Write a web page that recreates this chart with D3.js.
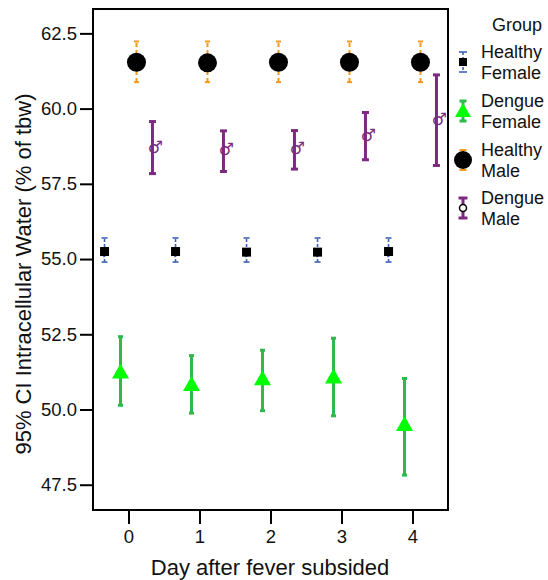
<!DOCTYPE html>
<html>
<head>
<meta charset="utf-8">
<script src="https://cdn.jsdelivr.net/npm/d3@7"></script>
<style>
  body { margin: 0; background: #fff; }
  text { font-family: "Liberation Sans", Arial, sans-serif; }
</style>
</head>
<body>
<div id="my_dataviz"><svg></svg></div>
<script>
// data
var days = [0, 1, 2, 3, 4];
var groups = ["Healthy Female", "Dengue Female", "Healthy Male", "Dengue Male"];

var healthyFemaleMean = [55.25, 55.25, 55.23, 55.23, 55.25];
var healthyFemaleLow  = [54.90, 54.90, 54.90, 54.90, 54.90];
var healthyFemaleHigh = [55.70, 55.70, 55.70, 55.70, 55.70];

var dengueFemaleMean = [51.26, 50.85, 51.04, 51.10, 49.52];
var dengueFemaleLow  = [50.14, 49.88, 49.96, 49.79, 47.82];
var dengueFemaleHigh = [52.42, 51.79, 51.97, 52.37, 51.03];

var healthyMaleMean = [61.54, 61.52, 61.54, 61.54, 61.54];
var healthyMaleLow  = [60.88, 60.88, 60.88, 60.88, 60.88];
var healthyMaleHigh = [62.23, 62.23, 62.23, 62.23, 62.23];

var dengueMaleMean = [58.70, 58.62, 58.65, 59.09, 59.63];
var dengueMaleLow  = [57.84, 57.91, 57.99, 58.30, 58.11];
var dengueMaleHigh = [59.57, 59.26, 59.27, 59.87, 61.12];

var yTicks = [47.5, 50.0, 52.5, 55.0, 57.5, 60.0, 62.5];
var dodge = [-0.3375, -0.1125, 0.1125, 0.3375];

var margin = {top: 9, right: 100, bottom: 70, left: 93};
var width = 448 - 93, height = 510 - 9;

var svg = d3.select("#my_dataviz").select("svg")
    .attr("width", 548)
    .attr("height", 580);

var g = svg.append("g")
    .attr("transform", "translate(" + margin.left + "," + margin.top + ")");

var xAxis = d3.scaleLinear().domain([-0.5, 4.5]).range([0, width]);
var yAxis = d3.scaleLinear().domain([46.66, 63.31]).range([height, 0]);

// axes
var ax = g.append("g")
    .attr("transform", "translate(0," + height + ")")
    .call(d3.axisBottom(xAxis).tickValues(days).tickFormat(d3.format("d")).tickSize(14).tickSizeOuter(0).tickPadding(6));
var ay = g.append("g")
    .call(d3.axisLeft(yAxis).tickValues(yTicks).tickFormat(d3.format(".1f")).tickSize(13).tickSizeOuter(0).tickPadding(3));
[ax, ay].forEach(function (a) {
    a.select(".domain").remove();
    a.selectAll("line").attr("stroke", "#000").attr("stroke-width", 2);
    a.selectAll("text").attr("font-size", 18.5).attr("fill", "#111")
        .style("font-family", "'Liberation Sans', Arial, sans-serif");
});

g.append("rect")
    .attr("x", 0).attr("y", 0)
    .attr("width", width).attr("height", height)
    .attr("fill", "none").attr("stroke", "#000").attr("stroke-width", 2);

function buildRows(mean, low, high, gi) {
    return days.map(function (d, i) {
        return {x: d + dodge[gi], m: mean[i], lo: low[i], hi: high[i]};
    });
}

var series = [
    {rows: buildRows(healthyFemaleMean, healthyFemaleLow, healthyFemaleHigh, 0), color: "#3f63b8", sw: 1.6, dash: "3,2", cap: 3},
    {rows: buildRows(dengueFemaleMean, dengueFemaleLow, dengueFemaleHigh, 1), color: "#2fb84b", sw: 3, dash: null, cap: 2.5},
    {rows: buildRows(healthyMaleMean, healthyMaleLow, healthyMaleHigh, 2), color: "#f39a1c", sw: 2, dash: "4,3", cap: 2.5},
    {rows: buildRows(dengueMaleMean, dengueMaleLow, dengueMaleHigh, 3), color: "#7b2a80", sw: 3, dash: null, cap: 3.5}
];

// error bars
series.forEach(function (s) {
    var eb = g.append("g");
    eb.selectAll("line.v").data(s.rows).enter().append("line")
        .attr("x1", function (d) { return xAxis(d.x); })
        .attr("x2", function (d) { return xAxis(d.x); })
        .attr("y1", function (d) { return yAxis(d.lo); })
        .attr("y2", function (d) { return yAxis(d.hi); })
        .attr("stroke", s.color).attr("stroke-width", s.sw)
        .attr("stroke-dasharray", s.dash);
    ["lo", "hi"].forEach(function (k) {
        eb.selectAll("line." + k).data(s.rows).enter().append("line")
            .attr("x1", function (d) { return xAxis(d.x) - s.cap; })
            .attr("x2", function (d) { return xAxis(d.x) + s.cap; })
            .attr("y1", function (d) { return yAxis(d[k]); })
            .attr("y2", function (d) { return yAxis(d[k]); })
            .attr("stroke", s.color).attr("stroke-width", s.sw);
    });
});

// healthy female: blue venus glyph under a black square
g.selectAll(".hfsym").data(series[0].rows).enter().append("text")
    .attr("x", function (d) { return xAxis(d.x) - 1; })
    .attr("y", function (d) { return yAxis(d.m) + 4; })
    .attr("text-anchor", "middle")
    .attr("font-size", 11).attr("fill", "#3f63b8")
    .style("font-family", "'DejaVu Sans'")
    .text("\u2640");
g.selectAll(".hf").data(series[0].rows).enter().append("rect")
    .attr("x", function (d) { return xAxis(d.x) - 4.5; })
    .attr("y", function (d) { return yAxis(d.m) - 4.5; })
    .attr("width", 9).attr("height", 9)
    .attr("fill", "#000");

// dengue female triangles
g.selectAll(".df").data(series[1].rows).enter().append("path")
    .attr("transform", function (d) { return "translate(" + xAxis(d.x) + "," + yAxis(d.m) + ")"; })
    .attr("d", "M0,-8L8.5,7L-8.5,7Z")
    .attr("fill", "#00ff00");

// healthy male dots
g.selectAll(".hm").data(series[2].rows).enter().append("circle")
    .attr("cx", function (d) { return xAxis(d.x); })
    .attr("cy", function (d) { return yAxis(d.m); })
    .attr("r", 9.5)
    .attr("fill", "#000");

// dengue male: mars glyph
g.selectAll(".dm").data(series[3].rows).enter().append("text")
    .attr("x", function (d) { return xAxis(d.x) + 3; })
    .attr("y", function (d) { return yAxis(d.m) + 5; })
    .attr("text-anchor", "middle")
    .attr("font-size", 17).attr("font-weight", "bold").attr("fill", "#7b2a80")
    .style("font-family", "'DejaVu Sans'")
    .text("\u2642");

// axis titles
svg.append("text")
    .attr("x", 270).attr("y", 575)
    .attr("text-anchor", "middle")
    .attr("font-size", 22).attr("fill", "#111")
    .text("Day after fever subsided");
svg.append("text")
    .attr("transform", "translate(31,274) rotate(-90)")
    .attr("text-anchor", "middle")
    .attr("font-size", 22).attr("fill", "#111")
    .text("95% CI Intracellular Water (% of tbw)");

// legend
var leg = svg.append("g");
leg.append("text").attr("x", 542).attr("y", 31)
    .attr("text-anchor", "end").attr("font-size", 18).attr("fill", "#111")
    .text("Group");

var legY = [62, 111, 160, 208];
var legNames = groups.map(function (n) { return n.split(" "); });
legY.forEach(function (cy, i) {
    var s = series[i];
    var lg = leg.append("g").attr("transform", "translate(463," + cy + ")");
    lg.append("line").attr("x1", 0).attr("x2", 0).attr("y1", -10).attr("y2", 10)
        .attr("stroke", s.color).attr("stroke-width", s.sw).attr("stroke-dasharray", s.dash);
    [-10, 10].forEach(function (yy) {
        lg.append("line").attr("x1", -s.cap - 1).attr("x2", s.cap + 1).attr("y1", yy).attr("y2", yy)
            .attr("stroke", s.color).attr("stroke-width", s.sw);
    });
    if (i == 0) {
        lg.append("rect").attr("x", -4).attr("y", -4).attr("width", 8).attr("height", 8).attr("fill", "#000");
    } else if (i == 1) {
        lg.append("path").attr("d", "M0,-8L8,6L-8,6Z").attr("fill", "#00ff00");
    } else if (i == 2) {
        lg.append("circle").attr("r", 9).attr("fill", "#000");
    } else {
        lg.append("circle").attr("r", 3.5).attr("fill", "#fff").attr("stroke", "#000").attr("stroke-width", 1.5);
    }
    leg.append("text").attr("x", 481).attr("y", cy - 4)
        .attr("font-size", 18).attr("fill", "#111").text(legNames[i][0]);
    leg.append("text").attr("x", 481).attr("y", cy + 17)
        .attr("font-size", 18).attr("fill", "#111").text(legNames[i][1]);
});
</script>
</body>
</html>
